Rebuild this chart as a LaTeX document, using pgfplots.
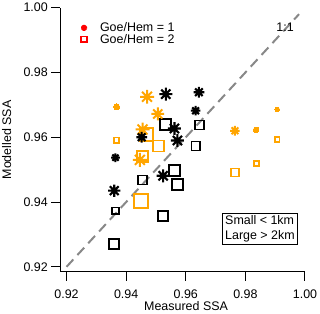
\documentclass[border=0pt]{standalone}
\usepackage{pgfplots}
\pgfplotsset{compat=1.18}
\usepackage{fontspec}
\setmainfont{Liberation Sans}
\definecolor{myorange}{RGB}{255,165,0}
\definecolor{mygray}{RGB}{136,136,136}
\pgfdeclareplotmark{ast8}{%
  \pgfpathmoveto{\pgfqpoint{-\pgfplotmarksize}{0pt}}%
  \pgfpathlineto{\pgfqpoint{\pgfplotmarksize}{0pt}}%
  \pgfpathmoveto{\pgfqpoint{0pt}{-\pgfplotmarksize}}%
  \pgfpathlineto{\pgfqpoint{0pt}{\pgfplotmarksize}}%
  \pgfpathmoveto{\pgfqpoint{-.7071\pgfplotmarksize}{-.7071\pgfplotmarksize}}%
  \pgfpathlineto{\pgfqpoint{.7071\pgfplotmarksize}{.7071\pgfplotmarksize}}%
  \pgfpathmoveto{\pgfqpoint{-.7071\pgfplotmarksize}{.7071\pgfplotmarksize}}%
  \pgfpathlineto{\pgfqpoint{.7071\pgfplotmarksize}{-.7071\pgfplotmarksize}}%
  \pgfusepathqstroke}
\pgfplotsset{
  msz/.style={only marks, scatter, scatter/use mapped color={draw=#1, fill=#1},
    visualization depends on={\thisrow{s}\as\ms},
    scatter/@pre marker code/.append style={/tikz/mark size=\ms},
    line width=1.8bp, forget plot},
  myleg/.style={legend image code/.code={%
    \pgfpathrectangle{\pgfqpoint{-3bp}{-3bp}}{\pgfqpoint{17bp}{6bp}}\pgfusepath{use as bounding box}%
    \draw[##1] plot coordinates {(0bp,0bp)};}}
}
\newcommand{\ff}{\fontsize{12.5}{14}\selectfont}
\begin{document}
\begin{tikzpicture}[font=\ff]
\begin{axis}[
  scale only axis, width=244.7bp, height=264.3bp,
  xmin=0.9179, xmax=1.0, ymin=0.9184, ymax=1.0,
  axis x line*=bottom, axis y line*=left,
  axis line style={line width=1bp},
  every tick/.style={black, line width=1bp},
  tick align=outside, major tick length=9bp,
  xtick={0.92,0.94,0.96,0.98,1.00},
  ytick={0.92,0.94,0.96,0.98,1.00},
  /pgf/number format/assume math mode=true,
  every tick label/.append style={font=\ff},
  xticklabel style={yshift=-5bp, /pgf/number format/.cd, fixed, fixed zerofill, precision=2},
  yticklabel style={/pgf/number format/.cd, fixed, fixed zerofill, precision=2},
  scaled ticks=false,
  xlabel={Measured SSA}, ylabel={Modelled SSA},
  every axis label/.append style={font=\ff},
  xlabel style={at={(axis description cs:0.514,-0.1305)}, anchor=center},
  ylabel style={at={(axis description cs:-0.219,0.5)}, anchor=center},
  legend style={draw=none, fill=none, at={(0.084,0.952)}, anchor=north west,
    font=\ff, nodes={font=\ff}, row sep=-3pt, inner sep=0pt},
  legend cell align=left,
  clip=false,
]
\addlegendimage{only marks, mark=ast8, red, mark size=3bp, line width=1.8bp, myleg}
\addlegendentry{Goe/Hem = 1}
\addlegendimage{only marks, mark=square, red, mark size=2.8bp, line width=1.8bp, myleg}
\addlegendentry{Goe/Hem = 2}

\addplot[mygray, line width=2bp, dash pattern=on 10bp off 6bp, forget plot]
  coordinates {(0.92,0.92) (0.998,0.998)};

% black squares
\addplot[msz=black, mark=square] table {
x y s
0.9533 0.9640 5.5
0.9645 0.9638 4.5
0.9634 0.9573 4.5
0.9454 0.9468 4.5
0.9562 0.9497 5.5
0.9573 0.9455 5.5
0.9364 0.9373 3.3
0.9524 0.9358 5
0.9360 0.9271 5
};
% orange squares
\addplot[msz=myorange, mark=square] table {
x y s
0.9468 0.9608 6.5
0.9508 0.9573 5.5
0.9455 0.9540 5.5
0.9451 0.9404 7
0.9766 0.9491 4
0.9368 0.9591 2.7
0.9836 0.9519 2.5
0.9907 0.9593 2.2
};
% orange dots
\addplot[msz=myorange, mark=*, line width=0pt] table {
x y s
0.9368 0.9694 3
0.9836 0.9623 2.8
0.9907 0.9686 2.3
};
% orange asterisks
\addplot[msz=myorange, mark=ast8, line width=2bp] table {
x y s
0.9470 0.9725 7
0.9506 0.9672 6.5
0.9455 0.9624 7
0.9446 0.9530 7
0.9765 0.9620 4.8
};
% black asterisks
\addplot[msz=black, mark=ast8, line width=2.1bp] table {
x y s
0.9533 0.9733 6.5
0.9644 0.9739 5.4
0.9633 0.9682 4.8
0.9562 0.9627 6.5
0.9572 0.9590 6.5
0.9452 0.9600 5.4
0.9364 0.9537 4.4
0.9360 0.9435 6.2
0.9524 0.9481 6.5
};

\node[font=\ff] at (axis cs:0.9933,0.994) {1:1};
\node[draw, line width=1bp, align=left, inner sep=2.5bp,
  font=\fontsize{12.5}{15}\selectfont] at (axis cs:0.9849,0.9317)
  {Small {<} 1km\\Large {>} 2km};
\coordinate (bbsw) at (rel axis cs:0,0);
\coordinate (bbne) at (rel axis cs:1,1);
\end{axis}
\pgfresetboundingbox
\useasboundingbox ([shift={(-60.3bp,-42bp)}]bbsw) rectangle ([shift={(15bp,7.7bp)}]bbne);
\end{tikzpicture}
\end{document}
